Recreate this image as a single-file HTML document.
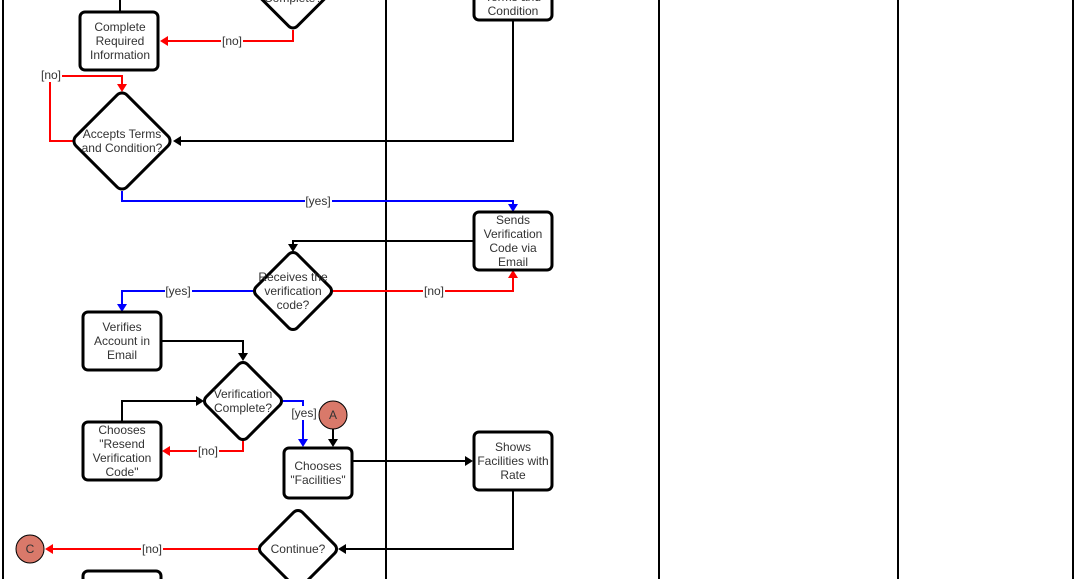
<!DOCTYPE html>
<html><head><meta charset="utf-8"><style>
html,body{margin:0;padding:0;background:#fff;width:1077px;height:579px;overflow:hidden}
svg{display:block}
text{font-family:"Liberation Sans",Arial,sans-serif;font-size:12px;fill:#333;text-anchor:middle}
.box{fill:#fff;stroke:#000;stroke-width:3}
.bl{fill:none;stroke:#000;stroke-width:2}
.rd{fill:none;stroke:#f00;stroke-width:2}
.bu{fill:none;stroke:#00f;stroke-width:2}
.lbl{fill:#fff}
</style></head><body>
<svg width="1077" height="579" viewBox="0 0 1077 579" xmlns="http://www.w3.org/2000/svg" style="overflow:hidden">
<g stroke="#000" stroke-width="2">
<line x1="3" y1="0" x2="3" y2="579"/>
<line x1="386" y1="0" x2="386" y2="579"/>
<line x1="659" y1="0" x2="659" y2="579"/>
<line x1="898" y1="0" x2="898" y2="579"/>
<line x1="1073" y1="0" x2="1073" y2="579"/>
</g>

<polyline class="bl" points="120,0 120,12"/>
<polyline class="rd" points="293,30 293,41 166,41"/>
<polygon points="160,41 168,36 168,46" fill="#f00"/>
<rect class="lbl" x="221" y="34" width="22" height="14"/><text x="232" y="45">[no]</text>

<polyline class="rd" points="73,141 50,141 50,76 122,76 122,85"/>
<polygon points="122,92 117,84 127,84" fill="#f00"/>
<rect class="lbl" x="40" y="68" width="22" height="14"/><text x="51" y="79">[no]</text>

<polyline class="bl" points="513,20 513,141 180,141"/>
<polygon points="173,141 181,136 181,146" fill="#000"/>

<polyline class="bu" points="122,191 122,201 513,201 513,205"/>
<polygon points="513,212 508,204 518,204" fill="#00f"/>
<rect class="lbl" x="305" y="194" width="27" height="14"/><text x="318" y="205">[yes]</text>

<polyline class="bl" points="474,241 293,241 293,245"/>
<polygon points="293,252 288,244 298,244" fill="#000"/>

<polyline class="rd" points="333,291 513,291 513,277"/>
<polygon points="513,270 508,278 518,278" fill="#f00"/>
<rect class="lbl" x="423" y="284" width="22" height="14"/><text x="434" y="295">[no]</text>

<polyline class="bu" points="253,291 122,291 122,305"/>
<polygon points="122,312 117,304 127,304" fill="#00f"/>
<rect class="lbl" x="165" y="284" width="27" height="14"/><text x="178" y="295">[yes]</text>

<polyline class="bl" points="161,341 243,341 243,354"/>
<polygon points="243,361 238,353 248,353" fill="#000"/>

<polyline class="bu" points="283,401 303,401 303,440"/>
<polygon points="303,447 298,439 308,439" fill="#00f"/>
<rect class="lbl" x="291" y="406" width="27" height="14"/><text x="304" y="417">[yes]</text>

<polyline class="bl" points="333,429 333,440"/>
<polygon points="333,447 328,439 338,439" fill="#000"/>

<polyline class="rd" points="243,440 243,451 168,451"/>
<polygon points="162,451 170,446 170,456" fill="#f00"/>
<rect class="lbl" x="197" y="444" width="22" height="14"/><text x="208" y="455">[no]</text>

<polyline class="bl" points="122,422 122,401 197,401"/>
<polygon points="204,401 196,396 196,406" fill="#000"/>

<polyline class="bl" points="352,461 466,461"/>
<polygon points="473,461 465,456 465,466" fill="#000"/>

<polyline class="bl" points="513,490 513,549 345,549"/>
<polygon points="338,549 346,544 346,554" fill="#000"/>

<polyline class="rd" points="258,549 52,549"/>
<polygon points="45,549 53,544 53,554" fill="#f00"/>
<rect class="lbl" x="141" y="542" width="22" height="14"/><text x="152" y="553">[no]</text>

<rect class="box" x="80" y="12" width="78" height="58" rx="5"/>
<text x="120" y="31">Complete</text><text x="120" y="45">Required</text><text x="120" y="59">Information</text>

<rect class="box" x="474" y="-40" width="78" height="60" rx="5"/>
<text x="513" y="1">Terms and</text><text x="513" y="15">Condition</text>

<rect class="box" x="474" y="212" width="78" height="58" rx="5"/>
<text x="513" y="224">Sends</text><text x="513" y="238">Verification</text><text x="513" y="252">Code via</text><text x="513" y="266">Email</text>

<rect class="box" x="83" y="312" width="78" height="58" rx="5"/>
<text x="122" y="331">Verifies</text><text x="122" y="345">Account in</text><text x="122" y="359">Email</text>

<rect class="box" x="83" y="422" width="78" height="58" rx="5"/>
<text x="122" y="434">Chooses</text><text x="122" y="448">"Resend</text><text x="122" y="462">Verification</text><text x="122" y="476">Code"</text>

<rect class="box" x="284" y="448" width="68" height="50" rx="5"/>
<text x="318" y="470">Chooses</text><text x="318" y="484">"Facilities"</text>

<rect class="box" x="474" y="432" width="78" height="58" rx="5"/>
<text x="513" y="451">Shows</text><text x="513" y="465">Facilities with</text><text x="513" y="479">Rate</text>

<rect class="box" x="83" y="571" width="78" height="20" rx="5"/>

<rect class="box" x="-30" y="-30" width="60" height="60" rx="6" transform="translate(293,-12) rotate(45)"/>
<text x="293" y="2">Complete?</text>

<rect class="box" x="-36" y="-36" width="72" height="72" rx="7" transform="translate(122,141) rotate(45)"/>
<text x="122" y="138">Accepts Terms</text><text x="122" y="152">and Condition?</text>

<rect class="box" x="-29" y="-29" width="58" height="58" rx="6" transform="translate(293,291) rotate(45)"/>
<text x="293" y="281">Receives the</text><text x="293" y="295">verification</text><text x="293" y="309">code?</text>

<rect class="box" x="-29" y="-29" width="58" height="58" rx="6" transform="translate(243,401) rotate(45)"/>
<text x="243" y="398">Verification</text><text x="243" y="412">Complete?</text>

<rect class="box" x="-29" y="-29" width="58" height="58" rx="6" transform="translate(298,549) rotate(45)"/>
<text x="298" y="553">Continue?</text>

<circle cx="333" cy="415" r="14" fill="#d9796a" stroke="#000" stroke-width="1"/>
<text x="333" y="419">A</text>
<circle cx="30" cy="549" r="14" fill="#d9796a" stroke="#000" stroke-width="1"/>
<text x="30" y="553">C</text>
</svg>
</body></html>
